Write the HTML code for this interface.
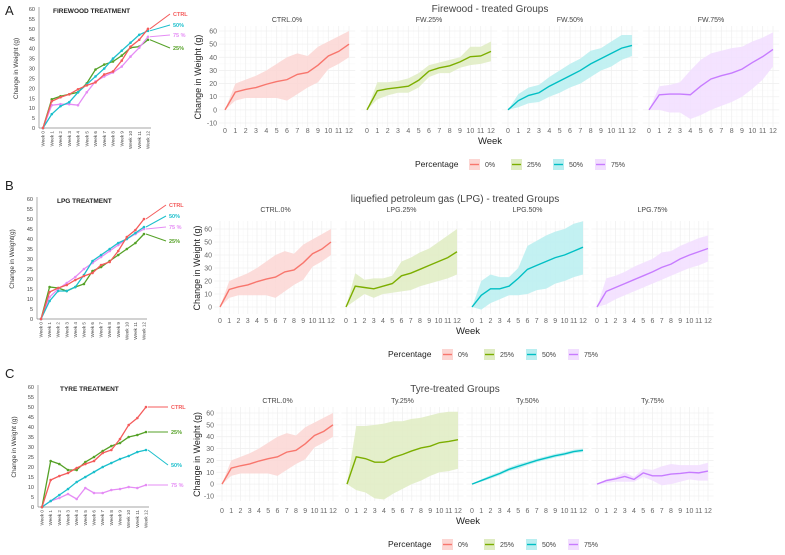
<!DOCTYPE html>
<html><head><meta charset="utf-8">
<style>
body{margin:0;background:#fff;}
svg{display:block;font-family:"Liberation Sans",sans-serif;}
</style></head>
<body>
<svg id="fig" width="785" height="555" viewBox="0 0 785 555"></svg>
<script>
const weeks=[0,1,2,3,4,5,6,7,8,9,10,11,12];
const ctrlMean=[0,13.5,15.5,17,19.5,21.5,23,27,28.5,34,41,44.5,50];
const ctrlLo=[0,7,9,9,9,9,7,12,17,21,31,35,40];
const ctrlHi=[0,20,23,26,30,35,40,43,41,48,52,56,60];
const fw25Mean=[0,14.5,16,17,18,22.5,29.5,32,33.5,36.5,40.5,41,44.5];
const fw25Lo=[0,8,11,13,13,17,25,28,28,32,34,35,37];
const fw25Hi=[0,21,21,22,24,28,34,36,38,40,48,48,52];
const fw50Mean=[0,7,11,13,18,22,26,30,35,39,43,47,49];
const fw50Lo=[0,2,5,6,10,13,17,20,25,30,33,38,41];
const fw50Hi=[0,12,17,19,25,30,35,39,45,47,52,57,57];
const fw75Mean=[0,11.5,12,12,11.5,18,23.5,26,28,31,36,40.5,46];
const fw75Lo=[0,0,-2,-2,-7,-4,0,3,6,10,16,23,33];
const fw75Hi=[0,18,19,21,30,38,43,45,47,48,52,55,59];
const lpg25Mean=[0,16,15,14,16,18,24,26,29,32,35,38,42.5];
const lpg25Lo=[0,5,10,7,10,11,12,13,16,18,20,22,25];
const lpg25Hi=[0,26,21,22,22,24,35,38,42,45,50,55,60];
const lpg50Mean=[0,9,14,14,16,22,29,32,35,38,40,43,46];
const lpg50Lo=[0,-2,3,6,9,9,10,13,14,18,20,23,25];
const lpg50Hi=[0,20,25,23,23,30,47,51,55,58,60,64,66];
const lpg75Mean=[0,12,15,18,21,24,27,30.5,33,37,40,42.5,45];
const lpg75Lo=[0,2,6,9,12,15,18,21,24,27,30,32,35];
const lpg75Hi=[0,22,24,27,31,34,37,42,43,47,50,53,55];
const ty25Mean=[0,23,21.5,18.5,18.5,22.5,25,28,30.5,32,35,36,37.5];
const ty25Lo=[0,-5,-7,-12,-13,-8,-4,0,3,7,10,11,13];
const ty25Hi=[0,49,49,50,51,53,53,55,56,58,60,61,61];
const ty50Mean=[0,3,6,9,12.5,15,17.5,20,22,24,25.5,27.5,28.5];
const ty50Lo=[0,2,4.5,7.5,11,13,16,18.5,20.5,22.5,24,26,27];
const ty50Hi=[0,4,7.5,10.5,14,17,19,21.5,23.5,25.5,27,29,30];
const ty75Mean=[0,3,4.5,6.5,4,9.5,7,7,8.5,9,10,9.5,11];
const ty75Lo=[0,1,2,2,2,6,3,-1,0,2,4,3,3];
const ty75Hi=[0,4,6,10,6,13,12,15,17,16,16,16,18];
const lpgLeft25=[0,16,15.5,14,16,17.5,24,26,29,32,35,38,42.5];
const lpgLeft50=[0,9,14,14,16,22,29,32,35,38,40,43,46];
const lpgLeft75=[0,11,15,18,21,25,28,31,34,37,40,42.5,45];
const yTicksFacet=[-10,0,10,20,30,40,50,60];
const yTicksLeft=[0,5,10,15,20,25,30,35,40,45,50,55,60];
const pctLabels=["0%","25%","50%","75%"];
const COLORS=["#F8766D","#7CAE00","#00BFC4","#C77CFF"];
const FILLS=["#fcd6d3","#dfecc2","#b9eef0","#f2deff"];
const NS="http://www.w3.org/2000/svg";
const svg=document.getElementById('fig');
function el(tag,attrs,parent,txt){const e=document.createElementNS(NS,tag);for(const k in attrs)e.setAttribute(k,attrs[k]);if(txt!==undefined)e.textContent=txt;(parent||svg).appendChild(e);return e;}

function facetRow(cfg){
  const g=el('g',{},svg);
  
  
  const t=el('text',{x:cfg.titleX,y:cfg.titleY,'font-size':10,fill:'#444','text-anchor':'middle'},g,cfg.title);
  
  
  const ymin=cfg.yMin,ymax=60;
  const Y=v=>cfg.y0-(v-ymin)*cfg.yStep/10;
  const yt=yTicksFacet.filter(v=>v>=ymin);
  cfg.facets.forEach((f,fi)=>{
    const X=w=>f.x0+w*(cfg.w/12);
    const fg=el('g',{},g);
    
    
    const left=X(-0.6),right=X(12.6);
    const top=Y(ymax)-cfg.padTop,bot=Y(ymin)+cfg.padBot;
    for(let w=0;w<12;w++){el('line',{x1:X(w+0.5),x2:X(w+0.5),y1:top,y2:bot,stroke:'#f8f8f8','stroke-width':0.5},fg);}
    for(let i=0;i<yt.length-1;i++){const v=yt[i]+5;el('line',{x1:left,x2:right,y1:Y(v),y2:Y(v),stroke:'#f8f8f8','stroke-width':0.5},fg);}
    weeks.forEach(w=>{el('line',{x1:X(w),x2:X(w),y1:top,y2:bot,stroke:'#f0f0f0','stroke-width':0.8},fg);
      const tl=el('text',{x:X(w),y:cfg.tickY,'font-size':7,fill:'#666','text-anchor':'middle'},fg,String(w));
      
      });
    yt.forEach(v=>{el('line',{x1:left,x2:right,y1:Y(v),y2:Y(v),stroke:'#f0f0f0','stroke-width':0.8},fg);
      if(fi===0){const yl=el('text',{x:f.x0-8,y:Y(v)+2.5,'font-size':7,fill:'#666','text-anchor':'end'},fg,String(v));
      
      }});
    const st=el('text',{x:X(6),y:cfg.stripY,'font-size':7,fill:'#444','text-anchor':'middle'},fg,f.strip);
    
    
    let d='';weeks.forEach((w,i)=>{d+=(i?'L':'M')+X(w)+','+Y(f.hi[i]);});
    for(let i=weeks.length-1;i>=0;i--)d+='L'+X(weeks[i])+','+Y(f.lo[i]);
    const band=el('path',{d:d+'Z',fill:FILLS[f.c],'fill-opacity':0.85},fg);
    
    
    let p='';weeks.forEach((w,i)=>{p+=(i?'L':'M')+X(w)+','+Y(f.mean[i]);});
    const ln=el('path',{d:p,fill:'none',stroke:COLORS[f.c],'stroke-width':1.4},fg);
    
    
  });
  const yt2=el('text',{x:0,y:0,'font-size':9,fill:'#222','text-anchor':'middle',transform:`translate(${cfg.yTitleX},${(Y(60)+Y(ymin))/2}) rotate(-90)`},g,'Change in Weight (g)');
  
  
  const xt=el('text',{x:cfg.weekX,y:cfg.weekY,'font-size':9.5,fill:'#222','text-anchor':'middle'},g,'Week');
  
  
  const lg=el('g',{},g);
  
  
  el('text',{x:cfg.legX,y:cfg.legY+3,'font-size':8.5,fill:'#222'},lg,'Percentage');
  pctLabels.forEach((lab,i)=>{
    const kx=cfg.legX+54+i*42;
    const eg=el('g',{},lg);
    
    
    el('rect',{x:kx,y:cfg.legY-5,width:11,height:11,fill:FILLS[i]},eg);
    el('line',{x1:kx+1,x2:kx+10,y1:cfg.legY+0.5,y2:cfg.legY+0.5,stroke:COLORS[i],'stroke-width':1.4},eg);
    el('text',{x:kx+16,y:cfg.legY+3,'font-size':7,fill:'#444'},eg,lab);
  });
}

facetRow({name:'firewood-facets',title:'Firewood -  treated Groups',titleX:490,titleY:12,stripY:22,
  yMin:-10,y0:123,yStep:13.14,padTop:5,padBot:4,w:124,tickY:133,yTitleX:201,weekX:490,weekY:144,legX:415,legY:164,
  facets:[{strip:'CTRL.0%',x0:225,mean:ctrlMean,lo:ctrlLo,hi:ctrlHi,c:0},
          {strip:'FW.25%',x0:367,mean:fw25Mean,lo:fw25Lo,hi:fw25Hi,c:1},
          {strip:'FW.50%',x0:508,mean:fw50Mean,lo:fw50Lo,hi:fw50Hi,c:2},
          {strip:'FW.75%',x0:649,mean:fw75Mean,lo:fw75Lo,hi:fw75Hi,c:3}]});
facetRow({name:'lpg-facets',title:'liquefied petroleum gas (LPG) -  treated Groups',titleX:455,titleY:202,stripY:212,
  yMin:0,y0:307,yStep:13,padTop:8,padBot:7,w:111,tickY:323,yTitleX:200,weekX:468,weekY:334,legX:388,legY:354,
  facets:[{strip:'CTRL.0%',x0:220,mean:ctrlMean,lo:ctrlLo,hi:ctrlHi,c:0},
          {strip:'LPG.25%',x0:346,mean:lpg25Mean,lo:lpg25Lo,hi:lpg25Hi,c:1},
          {strip:'LPG.50%',x0:472,mean:lpg50Mean,lo:lpg50Lo,hi:lpg50Hi,c:2},
          {strip:'LPG.75%',x0:597,mean:lpg75Mean,lo:lpg75Lo,hi:lpg75Hi,c:3}]});
facetRow({name:'tyre-facets',title:'Tyre-treated Groups',titleX:455,titleY:392,stripY:403,
  yMin:-10,y0:496,yStep:11.86,padTop:6,padBot:5,w:111,tickY:513,yTitleX:200,weekX:468,weekY:524,legX:388,legY:544,
  facets:[{strip:'CTRL.0%',x0:222,mean:ctrlMean,lo:ctrlLo,hi:ctrlHi,c:0},
          {strip:'Ty.25%',x0:347,mean:ty25Mean,lo:ty25Lo,hi:ty25Hi,c:1},
          {strip:'Ty.50%',x0:472,mean:ty50Mean,lo:ty50Lo,hi:ty50Hi,c:2},
          {strip:'Ty.75%',x0:597,mean:ty75Mean,lo:ty75Lo,hi:ty75Hi,c:3}]});

const LC=["#f45b5b","#55a127","#1bbfcc","#e58cf5"];
function leftChart(cfg){
  const g=el('g',{},svg);
  
  
  const pl=el('text',{x:5,y:cfg.letterY,'font-size':13,fill:'#222'},g,cfg.letter);
  
  
  const Y=v=>cfg.y0-v*(cfg.y0-cfg.y60)/60;
  const X=w=>cfg.x0+w*(cfg.x12-cfg.x0)/12;
  const ax=cfg.x0-4;
  el('line',{x1:ax,x2:ax,y1:Y(60)-2,y2:Y(0),stroke:'#888','stroke-width':0.7},g);
  el('line',{x1:ax,x2:X(12)+3,y1:Y(0),y2:Y(0),stroke:'#888','stroke-width':0.7},g);
  yTicksLeft.forEach(v=>{const t=el('text',{x:ax-4,y:Y(v)+2,'font-size':5.5,fill:'#444','text-anchor':'end'},g,String(v));
    
    });
  weeks.forEach(w=>{const t=el('text',{x:0,y:0,'font-size':4.6,fill:'#444','text-anchor':'end',transform:`translate(${X(w)+1.5},${Y(0)+3}) rotate(-90)`},g,'Week '+w);
    
    });
  const tt=el('text',{x:cfg.titleX,y:cfg.titleY,'font-size':6.5,'font-weight':'bold',fill:'#222'},g,cfg.title);
  
  
  const yt=el('text',{x:0,y:0,'font-size':6.5,fill:'#333','text-anchor':'middle',transform:`translate(${cfg.yTitleX},${(Y(0)+Y(60))/2}) rotate(-90)`},g,cfg.yTitle);
  
  
  cfg.series.forEach(s=>{
    let p='';weeks.forEach((w,i)=>{p+=(i?'L':'M')+X(w)+','+Y(s.v[i]);});
    const ln=el('path',{d:p,fill:'none',stroke:LC[s.c],'stroke-width':1.3},g);
    
    
    weeks.forEach((w,i)=>{const m=el('circle',{cx:X(w),cy:Y(s.v[i]),r:1.3,fill:LC[s.c]},g);
      
      });
    const ex=X(12),ey=Y(s.v[12]);
    el('line',{x1:ex+2,y1:ey,x2:cfg.labX-3,y2:s.ly-2,stroke:LC[s.c],'stroke-width':1},g);
    const lt=el('text',{x:cfg.labX,y:s.ly,'font-size':5.5,'font-weight':'bold',fill:LC[s.c]},g,s.lab);
    
    
  });
}
leftChart({name:'firewood-line-chart',letter:'A',letterY:15,title:'FIREWOOD TREATMENT',titleX:53,titleY:13,yTitle:'Change in  Weight (g)',yTitleX:18,
  x0:43,x12:148,y0:128,y60:9,labX:173,
  series:[{v:fw25Mean,c:1,lab:'25%',ly:50},{v:fw75Mean,c:3,lab:'75 %',ly:37},{v:fw50Mean,c:2,lab:'50%',ly:27},{v:ctrlMean,c:0,lab:'CTRL',ly:16}]});
leftChart({name:'lpg-line-chart',letter:'B',letterY:190,title:'LPG TREATMENT',titleX:57,titleY:203,yTitle:'Change in Weight(g)',yTitleX:14,
  x0:41,x12:144,y0:319,y60:199,labX:169,
  series:[{v:lpgLeft25,c:1,lab:'25%',ly:243},{v:lpgLeft75,c:3,lab:'75 %',ly:229},{v:lpgLeft50,c:2,lab:'50%',ly:218},{v:ctrlMean,c:0,lab:'CTRL',ly:207}]});
leftChart({name:'tyre-line-chart',letter:'C',letterY:378,title:'TYRE TREATMENT',titleX:60,titleY:391,yTitle:'Change in  Weight (g)',yTitleX:16,
  x0:42,x12:146,y0:507,y60:387,labX:171,
  series:[{v:ty75Mean,c:3,lab:'75 %',ly:487},{v:ty50Mean,c:2,lab:'50%',ly:467},{v:ty25Mean,c:1,lab:'25%',ly:434},{v:ctrlMean,c:0,lab:'CTRL',ly:409}]});
</script>
</body></html>
